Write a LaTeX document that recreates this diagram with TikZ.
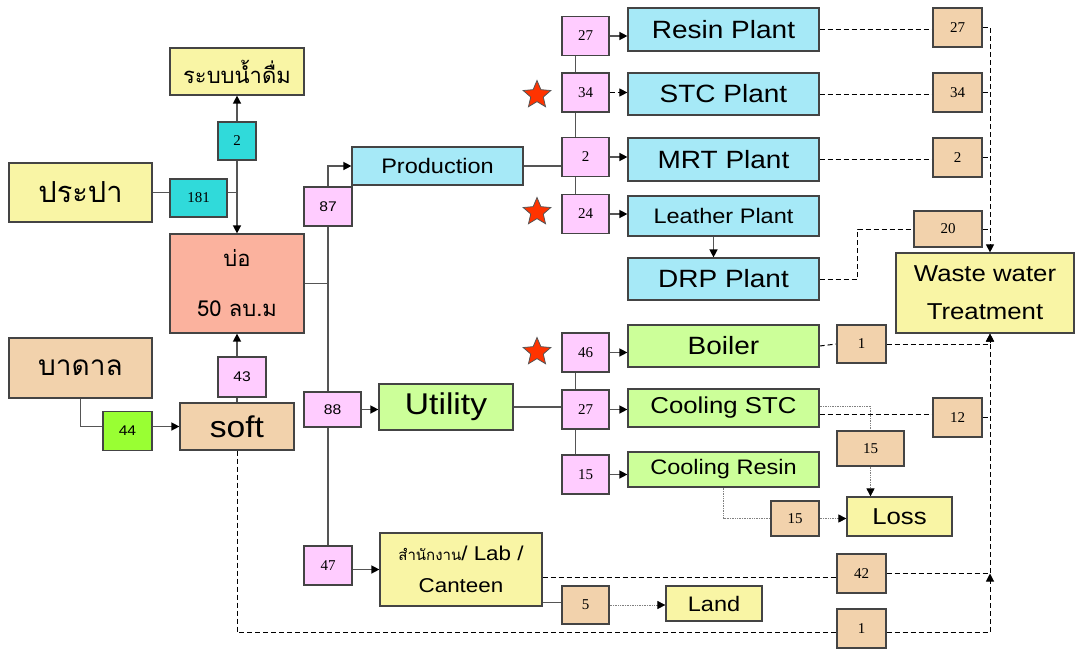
\documentclass[tikz,border=0pt]{standalone}
\usepackage{fontspec}
\setmainfont{Liberation Serif}
\newfontfamily\thai[Script=Thai]{Loma}
\newfontfamily\arl[FakeStretch=1.12]{Liberation Sans}
\usetikzlibrary{arrows.meta,shapes.geometric,backgrounds}
\definecolor{yelx}{HTML}{F9F5A5}
\definecolor{cyanx}{HTML}{30DADA}
\definecolor{salmonx}{HTML}{FBB29E}
\definecolor{tanx}{HTML}{F2D2AC}
\definecolor{limex}{HTML}{99FF33}
\definecolor{pinkx}{HTML}{FFCCFF}
\definecolor{bluex}{HTML}{A6E9F7}
\definecolor{lgreenx}{HTML}{CCFF99}
\definecolor{starx}{HTML}{FF3300}
\definecolor{linegray}{HTML}{555555}
\newcommand\fsz[1]{\fontsize{#1}{#1}\selectfont}
\tikzset{
  box/.style={draw=linegray!80!black,line width=1.2pt,inner sep=0pt,align=center},
  num/.style={box,minimum width=48pt,minimum height=39pt,font=\fsz{15}},
  pinkbox/.style={num,fill=pinkx},
  tanbox/.style={num,fill=tanx},
  cyanbox/.style={num,fill=cyanx},
  yelbox/.style={box,fill=yelx},
  plant/.style={box,fill=bluex,minimum width=191pt},
  utilbox/.style={box,fill=lgreenx},
  starred/.style={star,star points=5,star point ratio=2.2,fill=starx,draw=linegray,
    line width=0.8pt,minimum size=29pt,inner sep=0pt},
  ln/.style={line width=1.4pt,draw=linegray},
  dsh/.style={line width=1pt,dash pattern=on 5pt off 3pt},
  dotx/.style={line width=0.7pt,draw=gray,densely dotted},
  ar/.style={-{Triangle[length=8pt,width=8pt,color=black]}}
}
\begin{document}
\begin{tikzpicture}[x=1pt,y=-1pt]
\useasboundingbox (0,0) rectangle (1076,648);
% sources
\node[yelbox,minimum width=134pt,minimum height=47pt,font=\thai\fsz{22}] (drink) at (237,71.5) {ระบบน้ำดื่ม};
\node[cyanbox,minimum width=38pt,minimum height=38pt] (c2) at (237,141) {2};
\node[yelbox,minimum width=143pt,minimum height=59pt,font=\thai\fsz{29}] (prapa) at (80.5,192.5) {ประปา};
\node[cyanbox,minimum width=57pt,minimum height=38pt] (c181) at (198.5,198) {181};
\node[box,fill=salmonx,minimum width=134pt,minimum height=99pt,font=\thai\fsz{22}] (pond) at (237,283.5)
  {บ่อ\\[28pt]50 ลบ.ม};
\node[box,fill=tanx,minimum width=143pt,minimum height=60pt,font=\thai\fsz{28}] (badan) at (80.5,368) {บาดาล};
\node[num,fill=limex,minimum width=49pt,font=\arl\fsz{14}] (g44) at (127.5,431) {44};
\node[box,fill=tanx,minimum width=114pt,minimum height=47pt,font=\arl\fsz{30}] (soft) at (237,426.5) {soft};
\node[pinkbox,minimum height=40pt,font=\arl\fsz{14}] (p43) at (242,377) {43};
% trunk
\node[plant,minimum width=171pt,minimum height=38pt,font=\arl\fsz{21}] (prod) at (437.5,166) {Production};
\node[pinkbox,font=\arl\fsz{14}] (p87) at (328,206.5) {87};
\node[pinkbox,minimum width=57pt,minimum height=35pt,font=\arl\fsz{14}] (p88) at (332.5,409.5) {88};
\node[utilbox,minimum width=134pt,minimum height=46pt,font=\arl\fsz{30}] (util) at (446,407) {Utility};
\node[pinkbox] (p47) at (328,565.5) {47};
\node[yelbox,minimum width=162pt,minimum height=73pt,font=\arl\fsz{20}] (lab) at (461,569.5)
  {{\thai\fsz{15}สำนักงาน}/ Lab /\\[12pt]Canteen};
% branches
\foreach \nm/\yy/\tx in {q27/36/27,q34/92.5/34,q2/157/2,q24/214/24,u46/352.5/46,u27/409.5/27,u15/474.5/15}
  \node[pinkbox,minimum width=47pt] (\nm) at (585.5,\yy) {\tx};
\foreach \yy in {95,212,352}
  \node[starred] (s\yy) at (537,\yy) {};
\node[plant,minimum height=43pt,font=\arl\fsz{25}] (resin) at (723.5,29.5) {Resin Plant};
\node[plant,minimum height=42pt,font=\arl\fsz{25}] (stc) at (723.5,94) {STC Plant};
\node[plant,minimum height=43pt,font=\arl\fsz{25}] (mrt) at (723.5,159.5) {MRT Plant};
\node[plant,minimum height=40pt,font=\arl\fsz{21}] (leather) at (723.5,216) {Leather Plant};
\node[plant,minimum height=42pt,font=\arl\fsz{25}] (drp) at (723.5,279) {DRP Plant};
\node[utilbox,minimum width=191pt,minimum height=42pt,font=\arl\fsz{25}] (boiler) at (723.5,346) {Boiler};
\node[utilbox,minimum width=191pt,minimum height=38pt,font=\arl\fsz{23}] (coolstc) at (723.5,408) {Cooling STC};
\node[utilbox,minimum width=191pt,minimum height=35pt,font=\arl\fsz{21}] (coolresin) at (723.5,469.5) {Cooling Resin};
% outlets
\foreach \nm/\yy/\tx in {w27/27.5/27,w34/92.5/34,w2/157.5/2,t12/417.5/12}
  \node[tanbox,minimum width=49pt] (\nm) at (957.5,\yy) {\tx};
\node[tanbox,minimum width=68pt,minimum height=36pt] (t20) at (948,229) {20};
\node[tanbox,minimum width=49pt,minimum height=38pt] (t1) at (861.5,344) {1};
\node[tanbox,minimum width=67pt,minimum height=35pt] (t15a) at (870.5,448.5) {15};
\node[tanbox,minimum height=35pt] (t15b) at (795,518.5) {15};
\node[tanbox,minimum width=49pt] (t42) at (861.5,573.5) {42};
\node[tanbox,minimum width=47pt,minimum height=38pt] (t5) at (585.5,605) {5};
\node[tanbox,minimum width=49pt] (t1b) at (861.5,628.5) {1};
\node[yelbox,minimum width=178pt,minimum height=80pt,font=\arl\fsz{23}] (wwt) at (985,293)
  {Waste water\\[15pt]Treatment};
\node[yelbox,minimum width=105pt,minimum height=39pt,font=\arl\fsz{23}] (loss) at (899.5,516.5) {Loss};
\node[yelbox,minimum width=96pt,minimum height=35pt,font=\arl\fsz{21}] (land) at (714,603.5) {Land};
\coordinate (wx) at ([xshift=5pt]wwt.north);
\coordinate (wy) at ([xshift=5pt]wwt.south);
\coordinate (wz) at (wy |- t42.east);
\begin{scope}[on background layer]
\fill[white] (0,0) rectangle (1076,648);
\draw[ln] (prapa.east) -- (prapa.east -| c181.west);
\draw[ln] (c181.east |- prapa.east) -- (c2.south |- prapa.east);
\draw[ln,ar] (c2.south) -- (pond.north);
\draw[ln,ar] (c2.north) -- (drink.south);
\draw[ln] (soft.north) -- (soft.north |- p43.south);
\draw[ln,ar] (soft.north |- p43.north) -- (pond.south);
\draw[ln] (badan.south) |- (g44.west |- soft.west);
\draw[ln,ar] (g44.east |- soft.west) -- (soft.west);
\draw[ln] (pond.east) -- (pond.east -| p87.south);
\draw[ln,ar] (p87.north) |- (prod.west);
\draw[ln] (p87.south) -- (p47.north);
\draw[ln,ar] (p88.east) -- (p88.east -| util.west);
\draw[ln,ar] (p47.east |- lab.west) -- (lab.west);
\draw[ln] (prod.east) -- (prod.east -| q2.west);
\draw[ln] ([xshift=-10pt]q27.south) -- ([xshift=-10pt]q24.north);
\draw[ln] (util.east) -- (util.east -| u27.west);
\draw[ln] ([xshift=-10pt]u46.south) -- ([xshift=-10pt]u15.north);
\foreach \a/\b in {q27/resin,q2/mrt,q24/leather,u46/boiler,u27/coolstc,u15/coolresin}
  \draw[ln,ar] (\a.east) -- (\a.east -| \b.west);
\draw[dsh,ar] (q34.east) -- (q34.east -| stc.west);
\draw[ln,ar] ([xshift=-10pt]leather.south) -- ([xshift=-10pt]drp.north);
% waste water
\draw[dsh] (resin.east) -- (resin.east -| w27.west);
\draw[dsh,ar] (w27.east) -| (wx);
\draw[dsh] (stc.east) -- (stc.east -| w34.west);
\draw[dsh] (w34.east) -- (w34.east -| wx);
\draw[dsh] (mrt.east) -- (mrt.east -| w2.west);
\draw[dsh] (w2.east) -- (w2.east -| wx);
\draw[dsh] (drp.east) -- ++(38,0) |- (t20.west);
\draw[dsh] (t20.east) -- (t20.east -| wx);
\draw[dsh] (boiler.east) -- (t1.west);
\draw[dsh,ar] (t1.east) -| (wy);
\draw[dsh] ([yshift=-6pt]coolstc.east) -- ([yshift=-6pt]coolstc.east -| t12.west);
\draw[dsh] (t12.east) -- (t12.east -| wx);
\draw[dotx] ([yshift=2pt]coolstc.east) -| (t15a.north);
\draw[dotx,ar] (t15a.south) -- (t15a.south |- loss.north);
\draw[dotx] (coolresin.south) |- (t15b.west);
\draw[dotx,ar] (t15b.east) -- (t15b.east -| loss.west);
\draw[dsh] ([yshift=-8pt]lab.east) -- ([yshift=-8pt]lab.east -| t42.west);
\draw[dsh,ar] (t42.east) -| (wy);
\draw[ln,line width=1pt] ([yshift=4pt]lab.south east) -- ([yshift=4pt]lab.south east -| t5.west);
\draw[dotx,ar] (t5.east) -- (t5.east -| land.west);
\draw[dsh] (soft.south) |- ([yshift=-4pt]t1b.west);
\draw[dsh,ar] ([yshift=-4pt]t1b.east) -| (wz);
\end{scope}
\end{tikzpicture}
\end{document}
